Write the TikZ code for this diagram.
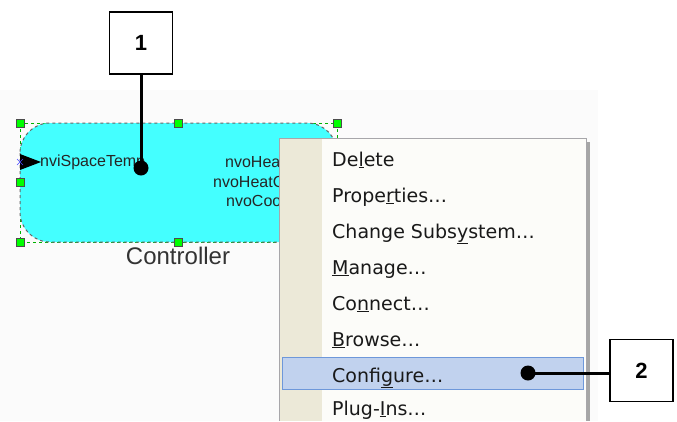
\documentclass[tikz,border=0pt]{standalone}
\usepackage{fontspec}
\setmainfont{Liberation Sans}
\newfontfamily\menufont{DejaVu Sans}
\usetikzlibrary{shapes.geometric}
\definecolor{cyanfill}{HTML}{44FFFF}
\definecolor{handlegreen}{HTML}{00FF00}
\definecolor{menubg}{HTML}{FCFCF9}
\definecolor{menustrip}{HTML}{ECE9D8}
\definecolor{menuborder}{HTML}{A7A6AA}
\definecolor{hlfill}{HTML}{C1D2EE}
\definecolor{hlborder}{HTML}{6E98DA}
\definecolor{shotbg}{HTML}{FBFBFB}
\newcommand{\ak}[1]{\underline{#1}}
\tikzset{
  callout/.style={draw=black, line width=1.6pt, fill=white, minimum width=63pt, minimum height=62pt, inner sep=0pt, font=\fontsize{22}{24}\selectfont\bfseries},
  leader/.style={line width=3pt},
  handle/.style={draw=black!70, fill=handlegreen, minimum size=8pt, inner sep=0pt, line width=0.6pt},
  menuitem/.style={anchor=base west, inner sep=0pt, font=\menufont\fontsize{19}{21}\selectfont, text=black!90},
  portlabel/.style={anchor=west, inner sep=0pt, font=\fontsize{16}{18}\selectfont, text=black!85},
}
\begin{document}
\begin{tikzpicture}[x=1pt,y=-1pt]
\useasboundingbox (0,0) rectangle (677,421);
\fill[white] (0,0) rectangle (677,421);
% screenshot backdrop
\fill[shotbg] (0,90) rectangle (598,421);
% controller block
\draw[handlegreen!70!black, dashed, line width=0.6pt] (20,123) rectangle (337,242);
\fill[cyanfill, rounded corners=30pt] (20,123) rectangle (337,242);
\draw[black!60, dashed, line width=1pt, rounded corners=30pt] (20,123) rectangle (337,242);
\node[portlabel] (pin) at (40,162) {nviSpaceTemp};
\node[portlabel] (po1) at (225,162) {nvoHeat};
\node[portlabel] (po2) at (213,182) {nvoHeatC};
\node[portlabel] (po3) at (226,201) {nvoCool};
\fill[black] (20,154) -- (41,162) -- (20,170) -- cycle;
\draw[blue!70, line width=0.6pt] (17,159) -- (23,165) (17,165) -- (23,159);
\node[font=\fontsize{24}{26}\selectfont, text=black!80, inner sep=0pt] (ctrl) at (178,256) {Controller};
\foreach \p/\n in {{(20,123)}/h1,{(178,123)}/h2,{(337,123)}/h3,{(20,182)}/h4,{(20,242)}/h5,{(178,242)}/h6}
  \node[handle] (\n) at \p {};
% context menu
\fill[black!35] (586,142) rectangle (590,421);
\fill[menubg] (279,138) rectangle (586,421);
\fill[menustrip] (280,139) rectangle (322,421);
\draw[menuborder, line width=1pt] (279,421) -- (279,138) -- (586,138) -- (586,421);
\draw[hlborder, fill=hlfill, line width=1pt] (282,357) rectangle (583,389);
\node[menuitem] (m1) at (332,166) {De\ak{l}ete};
\node[menuitem] (m2) at (332,202) {Prope\ak{r}ties\ldots};
\node[menuitem] (m3) at (332,238) {Change Subs\ak{y}stem\ldots};
\node[menuitem] (m4) at (332,274) {\ak{M}anage\ldots};
\node[menuitem] (m5) at (332,310) {Co\ak{n}nect\ldots};
\node[menuitem] (m6) at (332,346) {\ak{B}rowse\ldots};
\node[menuitem] (m7) at (332,382) {Confi\ak{g}ure\ldots};
\node[menuitem] (m8) at (332,415) {Plug-\ak{I}ns\ldots};
% callouts
\node[callout] (c1) at (141,43) {1};
\node[circle, fill=black, minimum size=15pt, inner sep=0pt] (d1) at (141,168) {};
\draw[leader] (c1.south) -- (d1.center);
\node[callout] (c2) at (641.5,370.5) {2};
\node[circle, fill=black, minimum size=15pt, inner sep=0pt] (d2) at (528,373) {};
\draw[leader] (d2.center) -- (d2.center -| c2.west);
\end{tikzpicture}
\end{document}
